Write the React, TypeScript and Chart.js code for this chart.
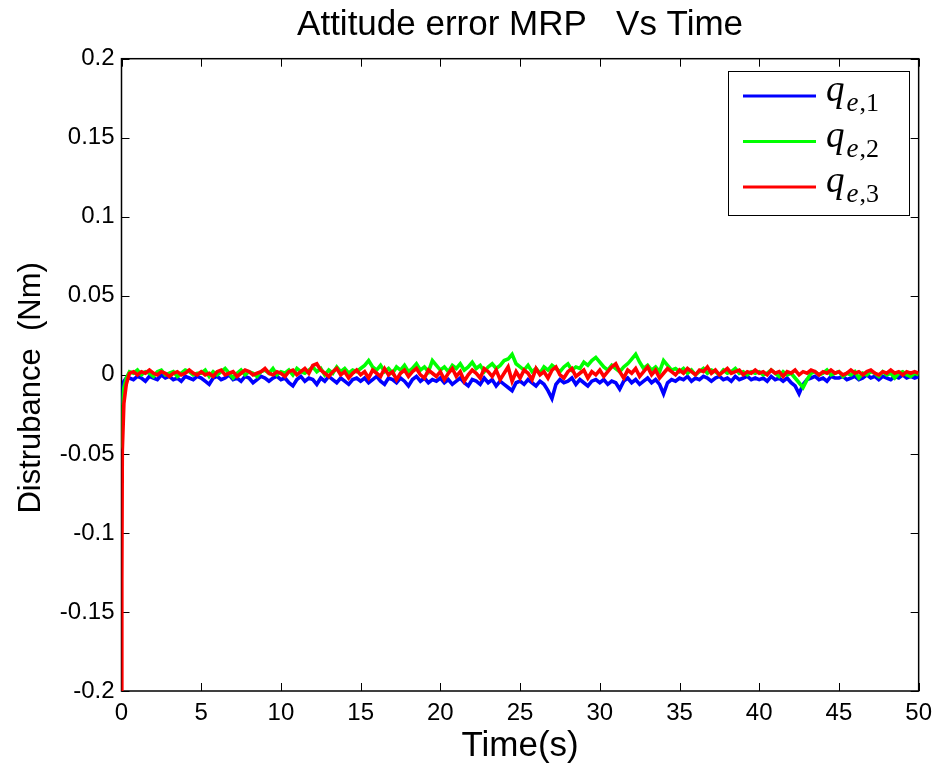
import React, { useEffect, useRef } from "react";
import { Chart, registerables } from "chart.js";

Chart.register(...registerables);

// ---- data ----
const TITLE = "Attitude error MRP   Vs Time";
const X_LABEL = "Time(s)";
const Y_LABEL = "Distrubance  (Nm)";
const SERIES_NAMES = ["1", "2", "3"]; // q_{e,1}, q_{e,2}, q_{e,3}
const SERIES_COLORS = ["#0000ff", "#00ff00", "#ff0000"];

// start-up transient samples (s)
const TRANSIENT_TIME = [0, 0.02, 0.05, 0.15, 0.3];
const q1Transient = [-0.018, -0.012, -0.008, -0.004, -0.002];
const q2Transient = [-0.046, -0.03, -0.018, -0.008, -0.002];
const q3Transient = [-0.2, -0.13, -0.048, -0.018, -0.006];

// steady samples, from 0.5 s every 0.25 s up to 50 s
const STEADY_START = 0.5;
const STEADY_STEP = 0.25;

const q1Steady = [
  -0.002, -0.003, -0.001, -0.002, -0.004, -0.001, -0.002, -0.003, 0.0, -0.002, -0.001, -0.003, -0.002, -0.004, -0.001, -0.002, -0.003, -0.001,
  -0.002, -0.004, -0.006, -0.002, -0.001, -0.003, -0.002, 0.0, -0.003, -0.002, -0.004, -0.001, -0.002, -0.005, -0.003, -0.001, -0.002, -0.004, -0.002, -0.001,
  -0.003, -0.002, -0.005, -0.007, -0.003, -0.001, -0.004, -0.002, -0.003, -0.006, -0.002, -0.004, -0.001, -0.003, -0.005, -0.002, -0.004, -0.006, -0.003, -0.002,
  -0.004, -0.002, -0.005, -0.003, -0.001, -0.004, -0.006, -0.002, -0.003, -0.005, -0.002, -0.004, -0.007, -0.003, -0.001, -0.004, -0.002, -0.005, -0.003, -0.004,
  -0.002, -0.005, -0.003, -0.006, -0.004, -0.002, -0.005, -0.007, -0.003, -0.004, -0.006, -0.002, -0.005, -0.003, -0.007, -0.004, -0.006, -0.008, -0.01, -0.005,
  -0.004, -0.006, -0.003, -0.005, -0.007, -0.004, -0.006, -0.01, -0.015, -0.006, -0.003, -0.005, -0.004, -0.002, -0.006, -0.003, -0.005, -0.007, -0.004, -0.003,
  -0.005, -0.003, -0.006, -0.004, -0.005, -0.009, -0.004, -0.002, -0.005, -0.003, -0.006, -0.004, -0.002, -0.005, -0.003, -0.006, -0.012, -0.005, -0.003, -0.004,
  -0.002, -0.003, -0.001, -0.004, -0.002, -0.003, -0.001, -0.002, -0.004, -0.002, -0.001, -0.003, -0.002, -0.004, -0.001, -0.003, -0.002, -0.001, -0.003, -0.002,
  -0.003, -0.002, -0.004, -0.001, -0.003, -0.002, -0.004, -0.002, -0.005, -0.007, -0.012, -0.006, -0.003, -0.002, -0.001, -0.003, -0.002, -0.004, -0.001, -0.002,
  -0.002, -0.001, -0.003, -0.002, -0.001, -0.003, -0.002, 0.0, -0.002, -0.001, -0.003, -0.001, -0.002, -0.003, -0.001, -0.002, 0.0, -0.002, -0.001, -0.002,
  -0.001,
];

const q2Steady = [
  0.002, 0.001, 0.003, 0.0, 0.002, 0.001, -0.001, 0.002, 0.003, 0.0, 0.001, 0.002, -0.001, 0.001, 0.003, 0.002, 0.0, 0.001,
  0.001, 0.003, -0.001, 0.002, 0.0, 0.002, 0.004, 0.001, -0.002, 0.001, 0.003, 0.0, 0.002, 0.001, -0.001, 0.002, 0.003, 0.001, 0.004, 0.0,
  0.002, 0.001, 0.003, 0.0, 0.004, 0.002, 0.001, 0.003, 0.005, 0.002, 0.004, 0.0, 0.003, 0.001, 0.005, 0.002, 0.004, 0.001, 0.003, 0.002,
  0.004, 0.006, 0.009, 0.005, 0.003, 0.006, 0.002, 0.004, 0.001, 0.005, 0.003, 0.006, 0.002, 0.004, 0.007, 0.003, 0.005, 0.002, 0.009, 0.006,
  0.003, 0.005, 0.002, 0.006, 0.004, 0.007, 0.003, 0.005, 0.008, 0.004, 0.006, 0.002, 0.005, 0.007, 0.004, 0.006, 0.009, 0.01, 0.013, 0.007,
  0.005, 0.003, 0.006, 0.002, 0.004, 0.001, 0.005, 0.003, 0.006, 0.004, 0.002, 0.005, 0.007, 0.003, 0.005, 0.004, 0.008, 0.006, 0.009, 0.011,
  0.008, 0.005, 0.003, 0.006, 0.004, 0.002, 0.005, 0.007, 0.01, 0.013, 0.008, 0.004, 0.006, 0.003, 0.005, 0.002, 0.009, 0.006, 0.003, 0.004,
  0.002, 0.004, 0.001, 0.003, 0.0, 0.002, 0.004, 0.001, 0.003, 0.002, 0.0, 0.003, 0.001, 0.002, 0.004, 0.001, 0.002, 0.0, 0.002, 0.001,
  0.002, 0.0, 0.001, 0.003, 0.001, -0.001, 0.002, 0.0, 0.001, -0.002, -0.005, -0.008, -0.003, 0.001, 0.002, 0.0, 0.001, 0.003, 0.0, 0.001,
  0.002, -0.001, 0.001, 0.0, 0.002, -0.002, 0.001, 0.0, 0.002, 0.001, -0.001, 0.002, 0.0, 0.001, -0.002, 0.001, 0.002, 0.0, -0.001, 0.001,
  0.0,
];

const q3Steady = [
  0.001, 0.002, 0.0, 0.002, 0.001, 0.003, 0.001, 0.0, 0.002, 0.001, -0.001, 0.001, 0.002, 0.0, 0.001, 0.003, 0.001, 0.0,
  0.002, 0.0, 0.001, -0.001, 0.002, 0.003, 0.0, 0.001, 0.002, -0.001, 0.001, 0.003, 0.002, 0.0, 0.001, 0.002, 0.004, 0.001, 0.0, 0.002,
  0.001, -0.001, 0.002, 0.003, 0.0, 0.002, 0.004, 0.001, 0.006, 0.007, 0.003, 0.001, -0.001, 0.002, 0.004, 0.0, 0.002, -0.002, 0.001, 0.003,
  0.0, 0.002, -0.002, 0.003, 0.001, -0.001, 0.004, 0.0, 0.002, -0.003, 0.001, 0.003, -0.001, 0.002, 0.004, 0.0, -0.002, 0.003, 0.001, -0.001,
  0.002, -0.003, 0.001, 0.004, -0.001, 0.002, -0.004, 0.0, 0.003, 0.001, -0.002, 0.004, 0.002, -0.001, 0.003, -0.003, 0.001, 0.005, -0.004, 0.002,
  -0.002, 0.003, 0.001, -0.003, 0.004, 0.0, 0.002, -0.002, 0.003, 0.005, 0.0, -0.002, 0.002, 0.004, -0.001, 0.001, 0.003, -0.002, 0.002, 0.0,
  0.003, -0.001, 0.002, 0.005, 0.007, 0.002, -0.002, 0.003, 0.001, 0.004, -0.001, 0.002, 0.005, 0.0, 0.003, -0.002, 0.001, 0.004, 0.002, 0.0,
  0.003, 0.001, 0.004, 0.002, 0.0, 0.003, 0.002, 0.005, 0.001, 0.003, 0.0, 0.002, 0.004, 0.001, 0.002, 0.003, 0.0, 0.002, 0.001, 0.003,
  0.001, 0.002, 0.0, 0.003, 0.001, 0.002, -0.001, 0.002, 0.001, 0.003, 0.0, 0.002, 0.001, 0.003, 0.002, 0.0, 0.002, 0.001, 0.003, 0.001,
  0.002, 0.0, 0.001, 0.003, 0.001, 0.002, 0.0, 0.002, 0.003, 0.001, 0.0, 0.002, 0.001, 0.003, 0.001, 0.002, 0.0, 0.002, 0.001, 0.002,
  0.001,
];

const X_MIN = 0, X_MAX = 50, X_STEP = 5;
const Y_MIN = -0.2, Y_MAX = 0.2, Y_STEP = 0.05;

function buildPoints(trans: number[], steady: number[]) {
  const pts = trans.map((v, i) => ({ x: TRANSIENT_TIME[i], y: v }));
  steady.forEach((v, i) => pts.push({ x: STEADY_START + i * STEADY_STEP, y: v }));
  return pts;
}

const SANS = "'Liberation Sans', Arial, sans-serif";
const SERIF = "'Liberation Serif', 'Times New Roman', serif";

const frameAndLegend = {
  id: "frameAndLegend",
  beforeDatasetsDraw(chart: any) {
    const { ctx, chartArea } = chart;
    const { left, right, top, bottom } = chartArea;
    const xs = chart.scales.x;
    const ys = chart.scales.y;
    const tl = 8;
    ctx.save();
    ctx.strokeStyle = "#000";
    ctx.lineWidth = 1;
    ctx.beginPath();
    xs.ticks.forEach((t: any) => {
      const px = Math.round(xs.getPixelForValue(t.value)) + 0.5;
      ctx.moveTo(px, bottom);
      ctx.lineTo(px, bottom - tl);
      ctx.moveTo(px, top);
      ctx.lineTo(px, top + tl);
    });
    ys.ticks.forEach((t: any) => {
      const py = Math.round(ys.getPixelForValue(t.value)) + 0.5;
      ctx.moveTo(left, py);
      ctx.lineTo(left + tl, py);
      ctx.moveTo(right, py);
      ctx.lineTo(right - tl, py);
    });
    ctx.stroke();
    ctx.lineWidth = 1.5;
    ctx.strokeRect(left, top, right - left, bottom - top);
    // y axis label (MATLAB places it slightly below the axis centre)
    ctx.save();
    ctx.translate(31, (top + bottom) / 2 + 13);
    ctx.rotate(-Math.PI / 2);
    ctx.fillStyle = "#000";
    ctx.textAlign = "center";
    ctx.textBaseline = "middle";
    ctx.font = `31px ${SANS}`;
    ctx.fillText(Y_LABEL, 0, 0);
    ctx.restore();
    ctx.restore();
  },
  afterDraw(chart: any) {
    const { ctx, chartArea } = chart;
    const bw = 181, bh = 144;
    const bx = Math.round(chartArea.right - 10 - bw);
    const by = Math.round(chartArea.top + 12.5);
    ctx.save();
    ctx.fillStyle = "#fff";
    ctx.fillRect(bx, by, bw, bh);
    ctx.strokeStyle = "#000";
    ctx.lineWidth = 1;
    ctx.strokeRect(bx + 0.5, by + 0.5, bw, bh);
    SERIES_NAMES.forEach((name, i) => {
      const ly = by + 25 + i * 45.5;
      ctx.strokeStyle = SERIES_COLORS[i];
      ctx.lineWidth = 3;
      ctx.beginPath();
      ctx.moveTo(bx + 15, ly);
      ctx.lineTo(bx + 88, ly);
      ctx.stroke();
      ctx.fillStyle = "#000";
      ctx.textBaseline = "alphabetic";
      ctx.textAlign = "left";
      ctx.font = `italic 37px ${SERIF}`;
      const qx = bx + 98;
      ctx.fillText("q", qx, ly + 5);
      const qw = ctx.measureText("q").width;
      ctx.font = `italic 27px ${SERIF}`;
      const ex = qx + qw + 2;
      ctx.fillText("e", ex, ly + 15);
      const ew = ctx.measureText("e").width;
      ctx.font = `26px ${SERIF}`;
      ctx.fillText("," + name, ex + ew + 1, ly + 15);
    });
    ctx.restore();
  },
};

export default function App() {
  const ref = useRef<HTMLCanvasElement | null>(null);
  useEffect(() => {
    document.body.style.margin = "0";
    const canvas = ref.current;
    if (!canvas) return;
    const series = [
      buildPoints(q1Transient, q1Steady),
      buildPoints(q2Transient, q2Steady),
      buildPoints(q3Transient, q3Steady),
    ];
    const chart = new Chart(canvas, {
      type: "line",
      data: {
        datasets: series.map((pts, i) => ({
          label: "q_{e," + SERIES_NAMES[i] + "}",
          data: pts,
          borderColor: SERIES_COLORS[i],
          backgroundColor: SERIES_COLORS[i],
          borderWidth: 3.6,
          borderJoinStyle: "miter",
          pointRadius: 0,
          tension: 0,
          fill: false,
          order: 3 - i,
        })),
      },
      options: {
        responsive: false,
        animation: false,
        events: [],
        layout: { padding: { top: 0, left: 0, right: 17, bottom: 0 } },
        plugins: {
          legend: { display: false },
          tooltip: { enabled: false },
          title: {
            display: true,
            text: TITLE,
            color: "#000",
            fullSize: false,
            font: { family: SANS, size: 35, weight: "normal", lineHeight: 1.2 },
            padding: { top: 4, bottom: 12.7 },
          },
        },
        scales: {
          x: {
            type: "linear",
            min: X_MIN,
            max: X_MAX,
            border: { display: false },
            grid: { display: false, drawTicks: false },
            ticks: {
              stepSize: X_STEP,
              color: "#000",
              padding: 8,
              maxRotation: 0,
              autoSkip: false,
              font: { family: SANS, size: 24 },
            },
            title: {
              display: true,
              text: X_LABEL,
              color: "#000",
              font: { family: SANS, size: 35, lineHeight: 1.2 },
              padding: { top: 0, bottom: 6 },
            },
            afterFit: (s: any) => {
              s.height = 82;
            },
          },
          y: {
            type: "linear",
            min: Y_MIN,
            max: Y_MAX,
            border: { display: false },
            grid: { display: false, drawTicks: false },
            ticks: {
              stepSize: Y_STEP,
              color: "#000",
              padding: 7,
              autoSkip: false,
              font: { family: SANS, size: 24 },
              callback: (v: any) => String(Number(Number(v).toFixed(2))),
            },
            afterFit: (s: any) => {
              s.width = 121.5;
            },
          },
        },
      },
      plugins: [frameAndLegend],
    });
    return () => chart.destroy();
  }, []);
  return (
    <canvas
      ref={ref}
      width={940}
      height={773}
      style={{ display: "block", width: 940, height: 773, background: "#fff" }}
    />
  );
}
